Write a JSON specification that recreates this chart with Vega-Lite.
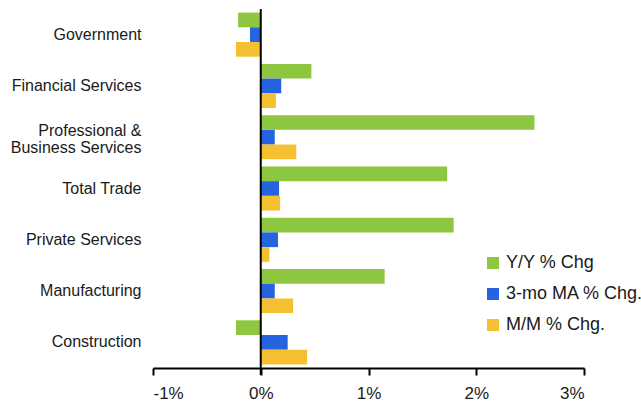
{
  "$schema": "https://vega.github.io/schema/vega-lite/v6.json",
  "width": 431,
  "height": 359,
  "autosize": {"type": "none"},
  "padding": {"left": 153, "top": 9, "right": 57, "bottom": 34},
  "background": "white",
  "config": {
    "view": {"stroke": null},
    "font": "Liberation Sans",
    "axis": {"labelFont": "Liberation Sans", "labelColor": "#1a1a1a"},
    "legend": {"labelFont": "Liberation Sans"}
  },
  "data": {
    "values": [
      {"cat": "Government", "series": "Y/Y % Chg", "v": -0.21},
      {"cat": "Government", "series": "3-mo MA % Chg.", "v": -0.10},
      {"cat": "Government", "series": "M/M % Chg.", "v": -0.23},
      {"cat": "Financial Services", "series": "Y/Y % Chg", "v": 0.47},
      {"cat": "Financial Services", "series": "3-mo MA % Chg.", "v": 0.19},
      {"cat": "Financial Services", "series": "M/M % Chg.", "v": 0.14},
      {"cat": "Professional & Business Services", "series": "Y/Y % Chg", "v": 2.54},
      {"cat": "Professional & Business Services", "series": "3-mo MA % Chg.", "v": 0.13},
      {"cat": "Professional & Business Services", "series": "M/M % Chg.", "v": 0.33},
      {"cat": "Total Trade", "series": "Y/Y % Chg", "v": 1.73},
      {"cat": "Total Trade", "series": "3-mo MA % Chg.", "v": 0.17},
      {"cat": "Total Trade", "series": "M/M % Chg.", "v": 0.18},
      {"cat": "Private Services", "series": "Y/Y % Chg", "v": 1.79},
      {"cat": "Private Services", "series": "3-mo MA % Chg.", "v": 0.16},
      {"cat": "Private Services", "series": "M/M % Chg.", "v": 0.08},
      {"cat": "Manufacturing", "series": "Y/Y % Chg", "v": 1.15},
      {"cat": "Manufacturing", "series": "3-mo MA % Chg.", "v": 0.13},
      {"cat": "Manufacturing", "series": "M/M % Chg.", "v": 0.30},
      {"cat": "Construction", "series": "Y/Y % Chg", "v": -0.23},
      {"cat": "Construction", "series": "3-mo MA % Chg.", "v": 0.25},
      {"cat": "Construction", "series": "M/M % Chg.", "v": 0.43}
    ]
  },
  "layer": [
    {
      "mark": {"type": "bar", "cornerRadius": 0},
      "encoding": {
        "y": {
          "field": "cat",
          "type": "nominal",
          "sort": null,
          "title": null,
          "scale": {"paddingInner": 0.14, "paddingOuter": 0.07},
          "axis": {
            "domain": false,
            "ticks": false,
            "labelPadding": 12,
            "labelFontSize": 16,
            "labelLimit": 200,
            "labelLineHeight": 17,
            "labelExpr": "datum.label == 'Professional & Business Services' ? ['Professional &', 'Business Services'] : datum.label",
            "labelOffset": {
              "condition": {"test": "indexof(datum.value, 'Professional') >= 0", "value": -6},
              "value": 0
            }
          }
        },
        "yOffset": {
          "field": "series",
          "type": "nominal",
          "sort": ["Y/Y % Chg", "3-mo MA % Chg.", "M/M % Chg."],
          "scale": {"paddingInner": 0, "paddingOuter": 0}
        },
        "x": {
          "field": "v",
          "type": "quantitative",
          "title": null,
          "scale": {"domain": [-1, 3], "nice": false},
          "axis": {
            "values": [-1, 0, 1, 2, 3],
            "labelExpr": "datum.value + '%'",
            "grid": false,
            "domainColor": "black",
            "domainWidth": 2,
            "tickColor": "black",
            "tickWidth": 2,
            "tickSize": 7,
            "labelFontSize": 17,
            "labelPadding": 10
          }
        },
        "color": {
          "field": "series",
          "type": "nominal",
          "sort": ["Y/Y % Chg", "3-mo MA % Chg.", "M/M % Chg."],
          "scale": {
            "domain": ["Y/Y % Chg", "3-mo MA % Chg.", "M/M % Chg."],
            "range": ["#8DC63F", "#2563E0", "#F4C030"]
          },
          "legend": {
            "title": null,
            "orient": "none",
            "legendX": 331,
            "legendY": 245,
            "symbolType": "square",
            "symbolSize": 144,
            "symbolStrokeWidth": 0,
            "labelFontSize": 18,
            "labelColor": "#1a1a1a",
            "rowPadding": 13,
            "labelOffset": 4
          }
        }
      }
    },
    {
      "data": {"values": [{"z": 0}]},
      "mark": {"type": "rule", "color": "black", "strokeWidth": 2, "y": 0, "y2": 366},
      "encoding": {"x": {"field": "z", "type": "quantitative"}}
    }
  ]
}
